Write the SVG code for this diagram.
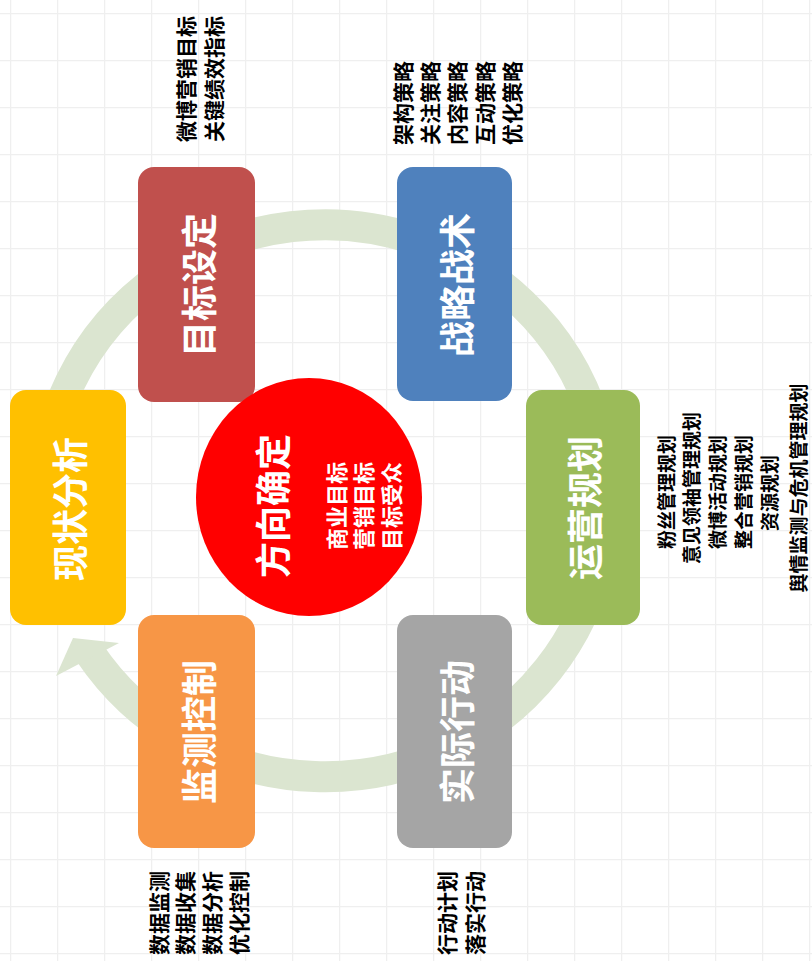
<svg xmlns="http://www.w3.org/2000/svg" width="812" height="961" viewBox="0 0 812 961">
<defs>
<pattern id="grid" width="47" height="47" patternUnits="userSpaceOnUse" x="10" y="13">
<path d="M0 0.5H47M0.5 0V47" fill="none" stroke="#efefef" stroke-width="1.5"/>
</pattern>
<style>
.box{stroke:none}
.lbl{font-family:"Noto Sans CJK SC","Noto Sans",sans-serif;font-weight:bold;fill:#fff;font-size:36px;text-anchor:middle;dominant-baseline:central}
.sub{font-family:"Noto Sans CJK SC","Noto Sans",sans-serif;font-weight:bold;fill:#fff;font-size:22px;text-anchor:middle;dominant-baseline:central}
.note{font-family:"Noto Sans CJK SC","Noto Sans",sans-serif;font-weight:bold;fill:#000;font-size:21px;text-anchor:middle;dominant-baseline:central}
.note2{font-family:"Noto Sans CJK SC","Noto Sans",sans-serif;font-weight:bold;fill:#000;font-size:19px;text-anchor:middle;dominant-baseline:central}
.ring{fill:none;stroke:#dbe5d0;stroke-width:31;stroke-linecap:butt}
</style>
</defs>
<rect width="812" height="961" fill="#fff"/>
<rect width="812" height="961" fill="url(#grid)"/>
<g id="connectors">
<path class="ring" d="M 43 501 A 282 276 0 1 1 89.8 653"/>
<polygon points="73,638 119,643 56,676" fill="#dbe5d0"/>
</g>
<g id="node-xianzhuang">
<rect class="box" x="10" y="390" width="116" height="235" rx="16" fill="#FFC000"/>
<text class="lbl" transform="translate(68,509) rotate(-90)">现状分析</text>
</g>
<g id="node-mubiao">
<rect class="box" x="138" y="167" width="117" height="235" rx="16" fill="#C0504D"/>
<text class="lbl" transform="translate(197,285) rotate(-90)">目标设定</text>
<text class="note" transform="translate(185,79) rotate(-90)">微博营销目标</text>
<text class="note" transform="translate(213,79) rotate(-90)">关键绩效指标</text>
</g>
<g id="node-zhanlue">
<rect class="box" x="397" y="167" width="115" height="234" rx="16" fill="#4F81BD"/>
<text class="lbl" transform="translate(455,285) rotate(-90)">战略战术</text>
<text class="note" transform="translate(402,103) rotate(-90)">架构策略</text>
<text class="note" transform="translate(429,103) rotate(-90)">关注策略</text>
<text class="note" transform="translate(456,103) rotate(-90)">内容策略</text>
<text class="note" transform="translate(484,103) rotate(-90)">互动策略</text>
<text class="note" transform="translate(511,103) rotate(-90)">优化策略</text>
</g>
<g id="node-yunying">
<rect class="box" x="526" y="390" width="114" height="235" rx="16" fill="#9BBB59"/>
<text class="lbl" transform="translate(583,508) rotate(-90)">运营规划</text>
<text class="note2" transform="translate(665,492) rotate(-90)">粉丝管理规划</text>
<text class="note2" transform="translate(690,488) rotate(-90)">意见领袖管理规划</text>
<text class="note2" transform="translate(716,492) rotate(-90)">微博活动规划</text>
<text class="note2" transform="translate(742,492) rotate(-90)">整合营销规划</text>
<text class="note2" transform="translate(768,493) rotate(-90)">资源规划</text>
<text class="note2" transform="translate(797,488) rotate(-90)">舆情监测与危机管理规划</text>
</g>
<g id="node-shiji">
<rect class="box" x="397" y="615" width="115" height="233" rx="16" fill="#A5A5A5"/>
<text class="lbl" transform="translate(455,732) rotate(-90)">实际行动</text>
<text class="note" transform="translate(446,913) rotate(-90)">行动计划</text>
<text class="note" transform="translate(474,913) rotate(-90)">落实行动</text>
</g>
<g id="node-jiance">
<rect class="box" x="138" y="615" width="117" height="233" rx="16" fill="#F79646"/>
<text class="lbl" transform="translate(197,732) rotate(-90)">监测控制</text>
<text class="note" transform="translate(158,913) rotate(-90)">数据监测</text>
<text class="note" transform="translate(184,913) rotate(-90)">数据收集</text>
<text class="note" transform="translate(211,913) rotate(-90)">数据分析</text>
<text class="note" transform="translate(238,913) rotate(-90)">优化控制</text>
</g>
<g id="node-fangxiang">
<ellipse cx="309" cy="497" rx="113" ry="119" fill="#FF0000"/>
<text class="lbl" transform="translate(271,506) rotate(-90)">方向确定</text>
<text class="sub" transform="translate(335,506) rotate(-90)">商业目标</text>
<text class="sub" transform="translate(362,506) rotate(-90)">营销目标</text>
<text class="sub" transform="translate(390,506) rotate(-90)">目标受众</text>
</g>
</svg>
